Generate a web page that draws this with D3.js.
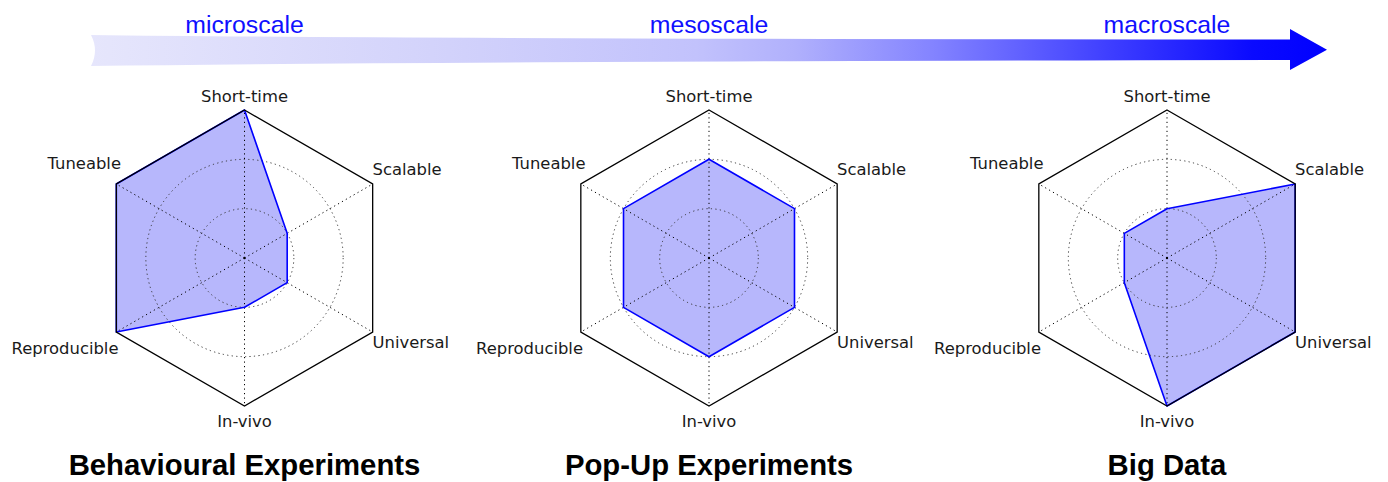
<!DOCTYPE html>
<meta charset="utf-8" />
<style>
  body {
    background: #fff;
    margin: 0px;
  }

  .frame {
    fill: none;
    stroke: #000;
    stroke-width: 1.3px;
  }

  .spoke,
  .ring {
    fill: none;
    stroke: #000;
    stroke-width: 1px;
    stroke-dasharray: 1.2, 3.3;
  }

  .ring {
    stroke: #333;
  }

  .area-fill {
    fill: rgb(183, 183, 252);
    stroke: none;
  }

  .area-line {
    fill: none;
    stroke: #0000ff;
    stroke-width: 1.6px;
    stroke-linejoin: round;
  }

  .axis-label {
    font-family: "DejaVu Sans", sans-serif;
    font-size: 16.4px;
    fill: #1a1a1a;
  }

  .title {
    font-family: "Liberation Sans", Arial, sans-serif;
    font-weight: bold;
    font-size: 29.3px;
    fill: #000;
  }

  .scale-label {
    font-family: "Liberation Sans", Arial, sans-serif;
    font-size: 24.8px;
    fill: #1010ff;
  }
</style>
<body></body>
<script src="https://d3js.org/d3.v7.min.js"></script>
<script>
  // ---- data
  var axes = ["Short-time", "Scalable", "Universal", "In-vivo", "Reproducible", "Tuneable"];
  var titles = ["Behavioural Experiments", "Pop-Up Experiments", "Big Data"];
  var behavioural = [1, 0.333, 0.333, 0.333, 1, 1];
  var popUp = [0.667, 0.667, 0.667, 0.667, 0.667, 0.667];
  var bigData = [0.333, 1, 1, 1, 0.333, 0.333];
  var scaleLabels = ["microscale", "mesoscale", "macroscale"];
  var gridLevels = [1 / 3, 2 / 3];

  var series = [behavioural, popUp, bigData];

  // ---- layout
  var width = 1388,
    height = 482;
  var centers = [244.5, 709, 1167],
    cy = 258,
    R = 148;

  // label placement per axis: dx, dy from centre, anchor
  var labelPlace = [
    { dx: 0, dy: -156, anchor: "middle" },
    { dx: 128, dy: -83, anchor: "start" },
    { dx: 128, dy: 90, anchor: "start" },
    { dx: 0, dy: 169, anchor: "middle" },
    { dx: -126, dy: 96, anchor: "end" },
    { dx: -123.5, dy: -89, anchor: "end" },
  ];

  var svg = d3
    .select("body")
    .append("svg")
    .attr("width", width)
    .attr("height", height);

  var r = d3.scaleLinear().domain([0, 1]).range([0, R]);
  var angle = d3
    .scalePoint()
    .domain(d3.range(axes.length + 1))
    .range([0, 2 * Math.PI]);

  var radial = d3
    .lineRadial()
    .angle(function (d, i) {
      return angle(i);
    })
    .radius(function (d) {
      return r(d);
    })
    .curve(d3.curveLinearClosed);

  // ---- scale arrow across the top
  var defs = svg.append("defs");
  var grad = defs
    .append("linearGradient")
    .attr("id", "arrowGrad")
    .attr("gradientUnits", "userSpaceOnUse")
    .attr("x1", 91)
    .attr("x2", 1327)
    .attr("y1", 0)
    .attr("y2", 0);

  [
    [0, "#e6e6fc"],
    [0.29, "#d2d2fb"],
    [0.49, "#c2c2fc"],
    [0.57, "#b0b0fc"],
    [0.68, "#8484ff"],
    [0.82, "#4040ff"],
    [0.94, "#0a0aff"],
    [1, "#0000ff"],
  ].forEach(function (s) {
    grad.append("stop").attr("offset", s[0]).attr("stop-color", s[1]);
  });

  var arrow = d3.path();
  arrow.moveTo(91, 35);
  arrow.quadraticCurveTo(400, 39, 1290, 39.5);
  arrow.lineTo(1290, 29);
  arrow.lineTo(1327, 49.7);
  arrow.lineTo(1290, 70);
  arrow.lineTo(1290, 60);
  arrow.quadraticCurveTo(400, 61.5, 91, 66);
  arrow.quadraticCurveTo(99, 50.5, 91, 35);
  arrow.closePath();

  svg.append("path").attr("d", arrow.toString()).attr("fill", "url(#arrowGrad)");

  svg
    .selectAll(".scale-label")
    .data(scaleLabels)
    .enter()
    .append("text")
    .attr("class", "scale-label")
    .attr("x", function (d, i) {
      return centers[i];
    })
    .attr("y", 33)
    .attr("text-anchor", "middle")
    .text(function (d) {
      return d;
    });

  // ---- radar charts
  series.forEach(function (values, k) {
    var g = svg
      .append("g")
      .attr("transform", "translate(" + centers[k] + "," + cy + ")");

    var ones = axes.map(function () {
      return 1;
    });

    // value area fill, under the grid
    g.append("path").attr("class", "area-fill").attr("d", radial(values));

    // grid rings
    g.selectAll(".ring")
      .data(gridLevels)
      .enter()
      .append("circle")
      .attr("class", "ring")
      .attr("r", function (d) {
        return r(d);
      });

    // spokes
    g.selectAll(".spoke")
      .data(axes)
      .enter()
      .append("line")
      .attr("class", "spoke")
      .attr("x1", 0)
      .attr("y1", 0)
      .attr("x2", function (d, i) {
        return r(1) * Math.sin(angle(i));
      })
      .attr("y2", function (d, i) {
        return -r(1) * Math.cos(angle(i));
      });

    g.append("circle").attr("r", 1.1).attr("fill", "#000");

    // value outline
    g.append("path").attr("class", "area-line").attr("d", radial(values));

    // outer hexagon frame
    g.append("path").attr("class", "frame").attr("d", radial(ones));

    // axis labels
    g.selectAll(".axis-label")
      .data(axes)
      .enter()
      .append("text")
      .attr("class", "axis-label")
      .attr("x", function (d, i) {
        return labelPlace[i].dx;
      })
      .attr("y", function (d, i) {
        return labelPlace[i].dy;
      })
      .attr("text-anchor", function (d, i) {
        return labelPlace[i].anchor;
      })
      .text(function (d) {
        return d;
      });

    g.append("text")
      .attr("class", "title")
      .attr("x", 0)
      .attr("y", 217)
      .attr("text-anchor", "middle")
      .text(titles[k]);
  });
</script>
